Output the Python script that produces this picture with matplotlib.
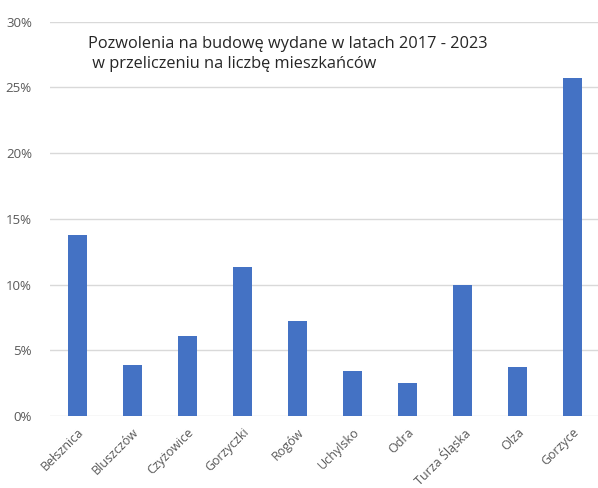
import matplotlib.pyplot as plt
from matplotlib.ticker import FuncFormatter

plt.rcParams['font.family'] = ['Open Sans', 'DejaVu Sans']

# share of building permits 2017-2023 per inhabitants, in percent
gminy = ['Bełsznica', 'Bluszczów', 'Czyżowice', 'Gorzyczki', 'Rogów',
         'Uchylsko', 'Odra', 'Turza Śląska', 'Olza', 'Gorzyce']
udzial = [13.8, 3.9, 6.1, 11.3, 7.2, 3.4, 2.5, 10.0, 3.7, 25.7]

fig = plt.figure(figsize=(5.98, 4.88), dpi=100)
ax = fig.add_axes([0.0836, 0.1475, 0.92, 0.808])

x = range(len(gminy))
ax.bar(x, udzial, width=0.34, color='#4472C4', zorder=3)

ax.set_ylim(0, 30)
ax.set_xlim(-0.5, len(gminy) - 0.5)
ax.set_yticks(range(0, 31, 5))
ax.yaxis.set_major_formatter(FuncFormatter(lambda v, p: f'{v:.0f}%'))
ax.grid(axis='y', color='#d9d9d9', linewidth=1, zorder=0)

ax.set_xticks(list(x))
ax.set_xticklabels(gminy, rotation=45, ha='right', rotation_mode='anchor')
ax.tick_params(axis='both', length=0, colors='#595959', labelsize=9.5)
ax.tick_params(axis='x', labelsize=9, pad=7)
ax.tick_params(axis='y', pad=13)
for s in ax.spines.values():
    s.set_visible(False)

fig.text(88 / 598, 1 - 36 / 488,
         'Pozwolenia na budowę wydane w latach 2017 - 2023\n w przeliczeniu na liczbę mieszkańców',
         fontsize=11.8, color='#262626', va='top', ha='left', linespacing=1.3)

fig.savefig('out.png', dpi=100)
